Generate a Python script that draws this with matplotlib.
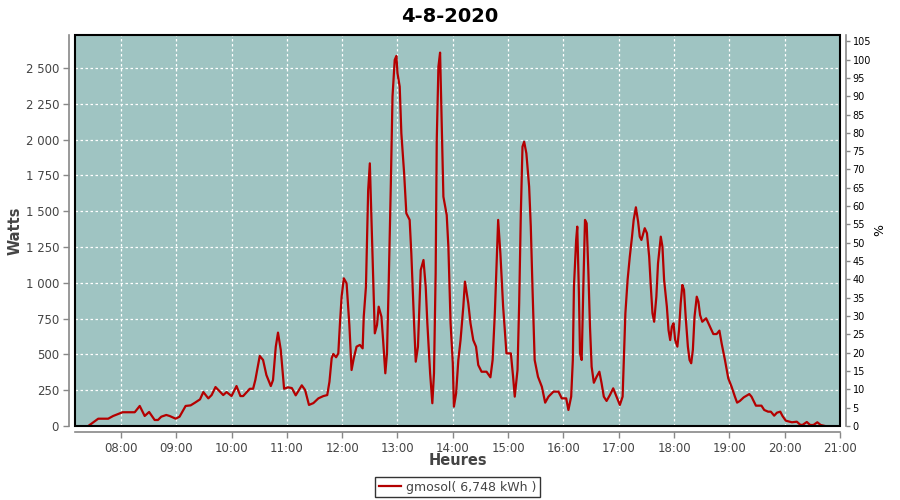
import matplotlib
matplotlib.use("Agg")
import matplotlib.pyplot as plt
from matplotlib.patches import Rectangle
from matplotlib.ticker import FuncFormatter, MultipleLocator

title = "4-8-2020"
series_label = "gmosol( 6,748 kWh )"

# time of day in decimal hours, power in watts
hours = [
    7.41, 7.59, 7.77, 7.86, 7.98, 8.03, 8.25, 8.34, 8.43, 8.51, 8.61, 8.67,
    8.73, 8.82, 8.88, 8.99, 9.06, 9.17, 9.26, 9.34, 9.43, 9.49, 9.58, 9.64,
    9.71, 9.85, 9.91, 10.0, 10.09, 10.16, 10.21, 10.33, 10.39, 10.43, 10.51,
    10.57, 10.63, 10.71, 10.75, 10.80, 10.84, 10.89, 10.95, 11.02, 11.09,
    11.16, 11.27, 11.33, 11.40, 11.48, 11.57, 11.66, 11.73, 11.77, 11.81,
    11.84, 11.89, 11.93, 11.96, 11.99, 12.03, 12.08, 12.13, 12.17, 12.21,
    12.26, 12.32, 12.37, 12.39, 12.43, 12.47, 12.50, 12.53, 12.56, 12.59,
    12.63, 12.66, 12.71, 12.74, 12.78, 12.81, 12.84, 12.88, 12.91, 12.95,
    12.98, 13.00, 13.04, 13.07, 13.12, 13.16, 13.22, 13.25, 13.30, 13.33,
    13.37, 13.42, 13.47, 13.51, 13.54, 13.59, 13.63, 13.66, 13.69, 13.71,
    13.74, 13.77, 13.80, 13.83, 13.89, 13.92, 13.96, 14.00, 14.02, 14.06,
    14.10, 14.14, 14.19, 14.22, 14.28, 14.32, 14.37, 14.42, 14.46, 14.52,
    14.61, 14.68, 14.72, 14.76, 14.82, 14.86, 14.91, 14.97, 15.05, 15.09,
    15.12, 15.17, 15.20, 15.23, 15.26, 15.29, 15.33, 15.38, 15.41, 15.44,
    15.48, 15.54, 15.61, 15.67, 15.73, 15.82, 15.91, 15.97, 16.05, 16.09,
    16.14, 16.17, 16.19, 16.23, 16.25, 16.28, 16.30, 16.33, 16.36, 16.39,
    16.42, 16.45, 16.48, 16.51, 16.55, 16.60, 16.65, 16.69, 16.73, 16.78,
    16.84, 16.90, 16.96, 17.02, 17.07, 17.09, 17.12, 17.16, 17.20, 17.24,
    17.27, 17.31, 17.35, 17.38, 17.41, 17.47, 17.51, 17.55, 17.58, 17.61,
    17.64, 17.68, 17.71, 17.76, 17.79, 17.82, 17.87, 17.90, 17.93, 17.96,
    17.99, 18.02, 18.06, 18.09, 18.12, 18.15, 18.18, 18.21, 18.25, 18.28,
    18.31, 18.34, 18.37, 18.41, 18.44, 18.47, 18.51, 18.58, 18.65, 18.71,
    18.77, 18.82, 18.86, 18.92, 18.98, 19.04, 19.10, 19.14, 19.19, 19.26,
    19.36, 19.40, 19.48, 19.58, 19.63, 19.70, 19.75, 19.81, 19.86, 19.92,
    19.96, 20.02, 20.13, 20.22, 20.28, 20.32, 20.40, 20.46, 20.52, 20.59,
    20.65, 20.73,
]
watts = [
    0, 51, 51, 70, 88, 96, 96, 140, 70, 98, 42, 42,
    65, 77, 70, 51, 65, 140, 144, 163, 186, 237, 193, 216,
    272, 216, 237, 209, 279, 209, 209, 260, 260, 321, 489,
    461, 356, 279, 321, 554, 652, 531, 260, 270, 265,
    214, 284, 251, 147, 160, 193, 209, 216, 309, 473,
    503, 480, 507, 717, 903, 1031, 996, 705, 391, 473,
    554, 566, 542, 763, 973, 1648, 1834, 1439, 1020, 647,
    705, 833, 763, 600, 368, 507, 973, 1694, 2300, 2556,
    2584, 2463, 2370, 2044, 1765, 1485, 1439, 1206, 717, 449,
    554, 1089, 1159, 973, 717, 368, 159, 368, 1066, 1997,
    2509, 2607, 2090, 1601, 1473, 1252, 717, 438, 135, 228,
    461, 600, 833, 1008, 857, 717, 600, 554, 426, 379,
    379, 340, 461, 787, 1439, 1206, 833, 507, 507, 344,
    205, 391, 857, 1485, 1950, 1985, 1904, 1671, 1392, 973,
    461, 344, 274, 163, 205, 240, 240, 193, 193, 112,
    205, 461, 973, 1299, 1392, 927, 507, 461, 973, 1439,
    1415, 1089, 693, 414, 302, 344, 379, 298, 205, 175,
    216, 263, 205, 147, 205, 438, 787, 1020, 1183, 1322,
    1439, 1527, 1427, 1322, 1299, 1381, 1346, 1183, 973, 787,
    728, 903, 1136, 1322, 1252, 1020, 833, 670, 600, 693,
    717, 600, 554, 670, 857, 985, 950, 763, 554, 461,
    438, 531, 763, 903, 868, 775, 728, 752, 693, 642,
    642, 666, 577, 461, 333, 274, 205, 163, 175, 200,
    223, 205, 142, 142, 112, 100, 100, 72, 93, 100,
    70, 37, 26, 30, 9, 7, 28, 7, 7, 26,
    7, 0,
]

hour_ticks = list(range(8, 22))
hour_labels = [f"{h:02d}:00" for h in hour_ticks]

bg = "#9fc4c2"
line_col = "#b40000"
axis_gray = "#888888"
text_col = "#444444"


def thousands(v, pos):
    return f"{int(v):,}".replace(",", " ")


fig = plt.figure(figsize=(9, 5), dpi=100)
ax = fig.add_axes([75 / 900, 74 / 500, 765 / 900, 391 / 500])
ax.set_facecolor(bg)

ax.plot(hours, watts, color=line_col, linewidth=1.6, label=series_label)

ax.set_xlim(7.17, 21.0)
ax.set_ylim(0, 2730)
ax.set_xticks(hour_ticks)
ax.set_xticklabels(hour_labels)
ax.yaxis.set_major_locator(MultipleLocator(250))
ax.yaxis.set_major_formatter(FuncFormatter(thousands))
ax.grid(True, color="white", linestyle=(0, (2, 2)), linewidth=0.9)

for side in ["left", "bottom"]:
    ax.spines[side].set_position(("outward", 4))
    ax.spines[side].set_color(axis_gray)
    ax.spines[side].set_linewidth(1.2)
ax.spines["top"].set_visible(False)
ax.spines["right"].set_visible(False)
ax.tick_params(axis="both", colors=axis_gray, labelcolor=text_col,
               length=4, width=1, labelsize=8.5)

# black frame around the data area
ax.add_patch(Rectangle((0, 0), 1, 1, transform=ax.transAxes, fill=False,
                       edgecolor="black", linewidth=1.5, clip_on=False,
                       zorder=5))

ax2 = ax.twinx()
ax2.set_ylim(0, 106.7)
ax2.yaxis.set_major_locator(MultipleLocator(5))
for side in ["left", "bottom", "top"]:
    ax2.spines[side].set_visible(False)
ax2.spines["right"].set_position(("outward", 4))
ax2.spines["right"].set_color(axis_gray)
ax2.spines["right"].set_linewidth(1.2)
ax2.tick_params(axis="y", colors=axis_gray, labelcolor="black",
                length=3, width=1, labelsize=7, pad=2)
ax2.set_ylabel("%", fontsize=9, color="black")
ax2.yaxis.set_label_coords(1.044, 0.5)

ax.set_ylabel("Watts", fontsize=10.5, fontweight="bold", color=text_col)
ax.yaxis.set_label_coords(-0.069, 0.5)
ax.set_xlabel("Heures", fontsize=10.5, fontweight="bold", color=text_col)
ax.xaxis.set_label_coords(0.5, -0.07)
fig.suptitle(title, fontsize=14, fontweight="bold", y=0.985)

leg = ax.legend(loc="upper center", bbox_to_anchor=(0.5, -0.13),
                frameon=True, fancybox=False, fontsize=9, handlelength=1.8,
                borderpad=0.3, handletextpad=0.4, borderaxespad=0)
leg.get_frame().set_edgecolor("black")
leg.get_frame().set_linewidth(1.0)
for t in leg.get_texts():
    t.set_color(text_col)

fig.savefig("out.png", dpi=100)
